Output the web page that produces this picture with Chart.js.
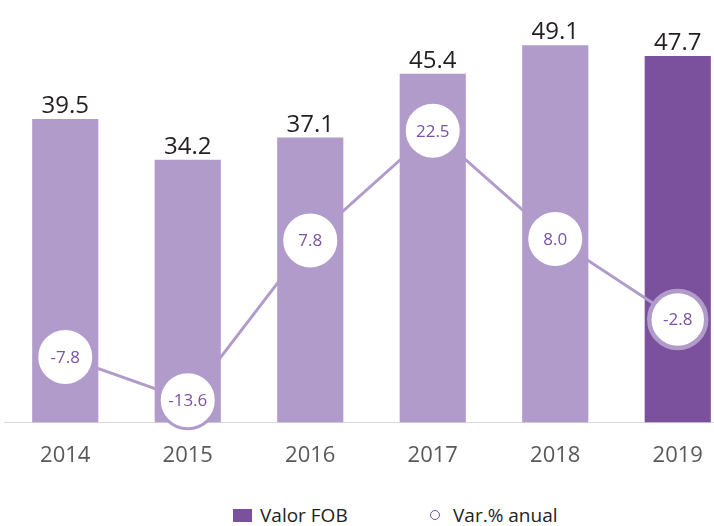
<!DOCTYPE html>
<html>
<head>
<meta charset="utf-8">
<script src="https://cdn.jsdelivr.net/npm/chart.js@4.4.0/dist/chart.umd.min.js"></script>
<style>
  html, body { margin: 0; padding: 0; background: #fff; width: 714px; height: 526px; overflow: hidden; }
  #wrap { position: absolute; left: 0; top: 0; width: 740px; height: 489px; }
  .lg { position: absolute; font-family: "Open Sans", sans-serif; font-size: 19px; line-height: 24px; color: #231f20; white-space: nowrap; }
  .sw-bar { position: absolute; left: 233px; top: 509px; width: 19px; height: 13px; background: #7b509d; }
  .sw-dot { position: absolute; left: 430px; top: 510px; width: 8px; height: 8px; border: 1.5px solid #7b509d; border-radius: 50%; }
</style>
</head>
<body>
<div id="wrap"><canvas id="chart" width="740" height="489"></canvas></div>
<span class="sw-bar"></span><span class="lg" style="left:260px; top:503px;">Valor FOB</span>
<span class="sw-dot"></span><span class="lg" style="left:453px; top:503px;">Var.% anual</span>
<script>
const years = ['2014', '2015', '2016', '2017', '2018', '2019'];
const valorFob = [39.5, 34.2, 37.1, 45.4, 49.1, 47.7];
const varAnual = [-7.8, -13.6, 7.8, 22.5, 8.0, -2.8];

const LIGHT = '#b09bca';
const DARK = '#7b509d';
const FONT = '"Open Sans", sans-serif';

// draws the bar values above the bars and the % values inside the circles
const valueLabels = {
  id: 'valueLabels',
  afterDatasetsDraw(chart) {
    const ctx = chart.ctx;
    ctx.save();
    ctx.textAlign = 'center';

    ctx.font = '24px ' + FONT;
    ctx.fillStyle = '#231f20';
    ctx.textBaseline = 'alphabetic';
    chart.getDatasetMeta(0).data.forEach((bar, i) => {
      ctx.fillText(valorFob[i].toFixed(1), bar.x, bar.y - 6);
    });

    ctx.font = '17px ' + FONT;
    ctx.fillStyle = '#7b51a4';
    ctx.textBaseline = 'middle';
    chart.getDatasetMeta(1).data.forEach((pt, i) => {
      ctx.fillText(varAnual[i].toFixed(1), pt.x, pt.y + 1);
    });
    ctx.restore();
  }
};

new Chart(document.getElementById('chart'), {
  type: 'bar',
  data: {
    labels: years,
    datasets: [{
      label: 'Valor FOB',
      data: valorFob,
      yAxisID: 'y',
      backgroundColor: c => c.dataIndex === years.length - 1 ? DARK : LIGHT,
      barPercentage: 0.54,
      categoryPercentage: 1,
      order: 1
    }, {
      type: 'line',
      label: 'Var.% anual',
      data: varAnual,
      yAxisID: 'y2',
      borderColor: LIGHT,
      borderWidth: 3,
      pointRadius: 28.5,
      pointHoverRadius: 28.5,
      pointBackgroundColor: '#fff',
      pointBorderColor: LIGHT,
      pointBorderWidth: c => c.dataIndex === years.length - 1 ? 4.5 : 3,
      tension: 0,
      clip: false,
      order: 0
    }]
  },
  options: {
    responsive: false,
    animation: false,
    layout: { autoPadding: false, padding: { left: 4, right: 1, top: 0, bottom: 0 } },
    plugins: {
      legend: { display: false }, // legend is in HTML below the canvas
      tooltip: { enabled: false }
    },
    scales: {
      x: {
        grid: { display: false, drawTicks: false },
        border: { display: true, color: '#d9d9d9', width: 1 },
        ticks: { color: '#58595b', font: { family: FONT, size: 22 }, padding: 20 }
      },
      y: { display: false, min: 0, max: 55 },
      y2: { display: false, min: -16.6, max: 40 }
    }
  },
  plugins: [valueLabels]
});
</script>
</body>
</html>
